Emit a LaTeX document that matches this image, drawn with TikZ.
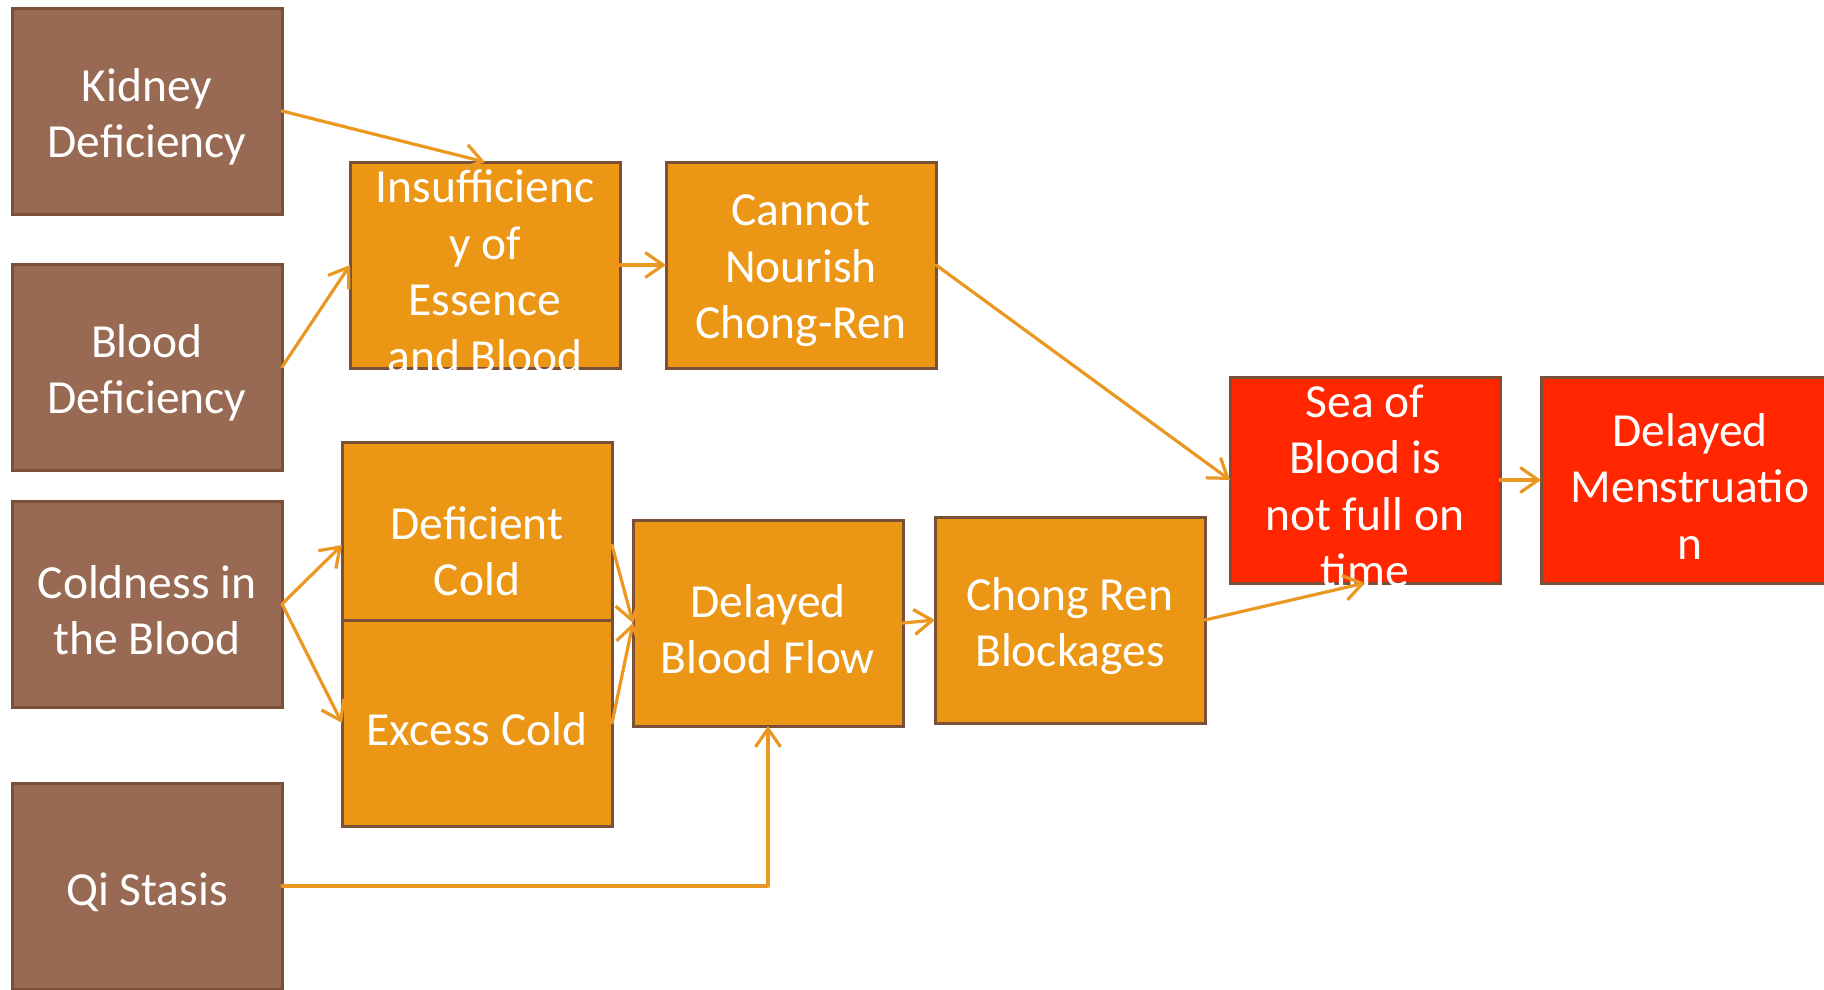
\documentclass[tikz,border=0pt]{standalone}
\usepackage{fontspec}
\setmainfont{Carlito}
\usetikzlibrary{arrows.meta}
\definecolor{brownfill}{RGB}{153,106,83}
\definecolor{boxline}{RGB}{122,80,57}
\definecolor{orangefill}{RGB}{235,150,21}
\definecolor{redfill}{RGB}{255,38,0}
\definecolor{arrowc}{RGB}{235,152,35}
\tikzset{
 box/.style={draw=boxline, line width=3pt, minimum width=270pt, minimum height=206pt, inner sep=0pt, outer sep=0pt},
 causebox/.style={box, fill=brownfill},
 midbox/.style={box, fill=orangefill},
 endbox/.style={box, fill=redfill},
 boxtext/.style={label={[text=white, align=center, font=\fontsize{47.5}{56.5}\selectfont, inner sep=0pt, yshift=-6pt]center:{#1}}},
 conn/.style={draw=arrowc, line width=3.2pt, -{Straight Barb[length=18pt, width=25pt, line width=3.2pt]}, line cap=round, line join=round}
}
\begin{document}
\begin{tikzpicture}[x=1pt, y=-1pt]
\useasboundingbox (0,0) rectangle (1824,989);
\clip (0,0) rectangle (1824,989);
\fill[white] (0,0) rectangle (1824,989);
% causes
\node[causebox, boxtext={Kidney\\Deficiency}] (kid) at (147,111) {};
\node[causebox, boxtext={Blood\\Deficiency}] (bld) at (147,367) {};
\node[causebox, boxtext={Coldness in\\the Blood}] (cold) at (147,604) {};
\node[causebox, boxtext={Qi Stasis}] (qi) at (147,886) {};
% middle
\node[midbox, boxtext={Insufficienc\\y of\\Essence\\and Blood}] (ins) at (485,265) {};
\node[midbox, boxtext={Cannot\\Nourish\\Chong-Ren}] (can) at (801,265) {};
\node[midbox, boxtext={Deficient\\Cold}] (def) at (477,545) {};
\node[midbox, boxtext={Excess Cold}] (exc) at (477,723) {};
\node[midbox, boxtext={Delayed\\Blood Flow}] (dbf) at (768,623) {};
\node[midbox, boxtext={Chong Ren\\Blockages}] (crb) at (1070,620) {};
% results
\node[endbox, boxtext={Sea of\\Blood is\\not full on\\time}] (sea) at (1365,480) {};
\node[endbox, minimum width=298pt, boxtext={Delayed\\Menstruatio\\n}] (dm) at (1690,480) {};
% connectors
\draw[conn] (kid.east) -- (ins.north);
\draw[conn] (bld.east) -- (ins.west);
\draw[conn] (ins.east) -- (can.west);
\draw[conn] (can.east) -- (sea.west);
\draw[conn] (cold.east) -- (def.west);
\draw[conn] (cold.east) -- (exc.west);
\draw[conn] (def.east) -- (dbf.west);
\draw[conn] (exc.east) -- (dbf.west);
\draw[conn] (qi.east) -| (dbf.south);
\draw[conn] (dbf.east) -- (crb.west);
\draw[conn] (crb.east) -- (sea.south);
\draw[conn] (sea.east) -- (dm.west);
\end{tikzpicture}
\end{document}
